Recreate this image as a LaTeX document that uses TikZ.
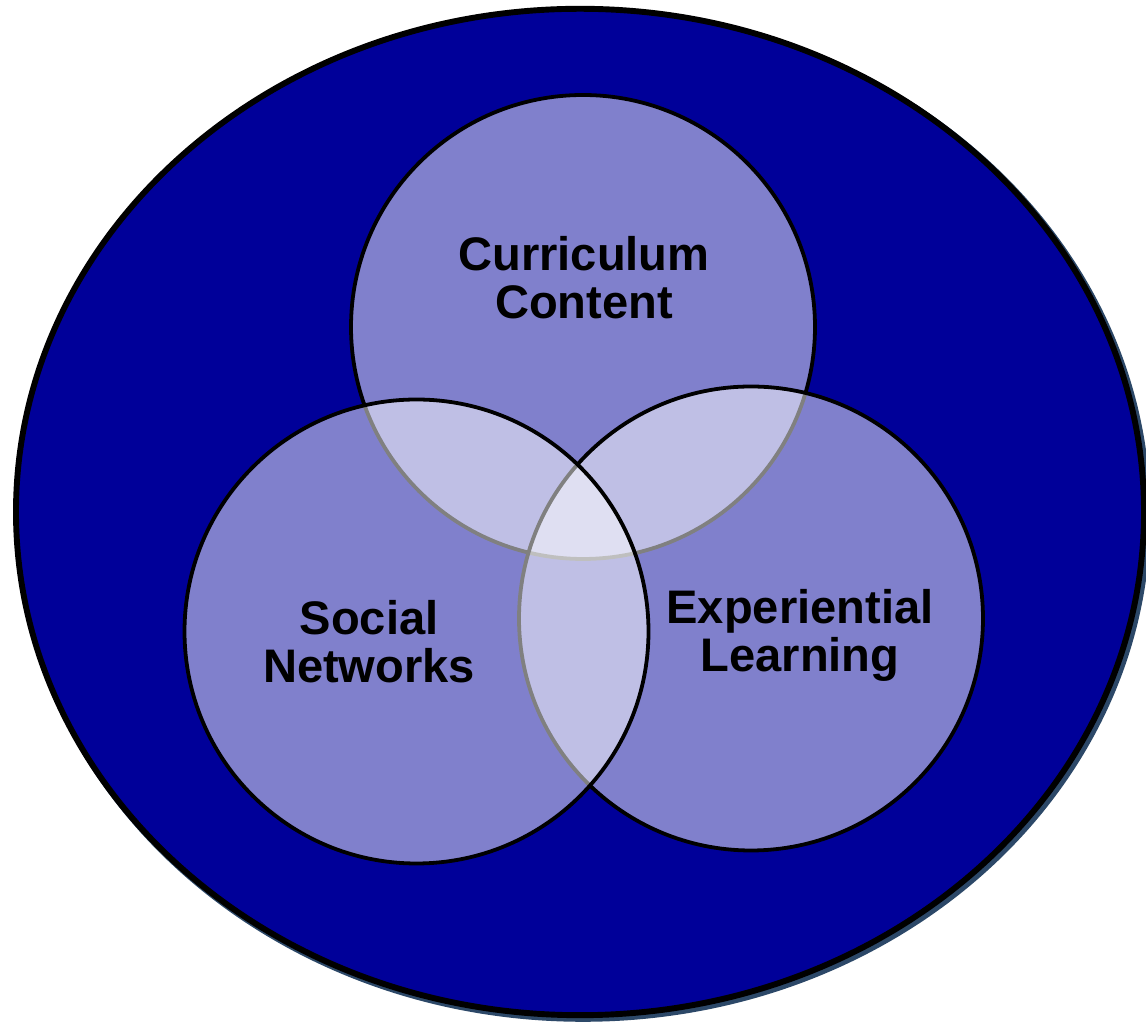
\documentclass[tikz,border=0pt]{standalone}
\usepackage{fontspec}
\setmainfont{Liberation Sans}
\usepackage{xcolor}
\definecolor{darkblue}{RGB}{0,0,153}
\definecolor{shadowblue}{RGB}{44,72,104}

\begin{document}
\begin{tikzpicture}[ring/.style={circle, draw=black, line width=2.7pt, fill=white, fill opacity=0.5, minimum size=11.6cm, inner sep=0pt},
                    word/.style={align=center, inner sep=0pt, font=\fontsize{33.5}{34}\selectfont\bfseries}]
                \useasboundingbox (0,0) rectangle (28.65,25.575);
                \fill[shadowblue] (14.575,12.7) ellipse [x radius=14.19cm, y radius=12.67cm];
                \draw[fill=darkblue, line width=4.2pt] (14.5,12.775) ellipse [x radius=14.1cm, y radius=12.58cm];

                \node[ring] (CC) at (14.575,17.4) {};
                \node[ring] (EL) at (18.775,10.1125) {};
                \node[ring] (SN) at (10.4125,9.7875) {};

                \node[word] (T1) at (14.6,18.625) {Curriculum\\Content};
                \node[word] (T2) at (9.225,9.525) {Social\\Networks};
                \node[word] (T3) at (20.0,9.6875) {Experiential\\Learning};
            \end{tikzpicture}
\end{document}
